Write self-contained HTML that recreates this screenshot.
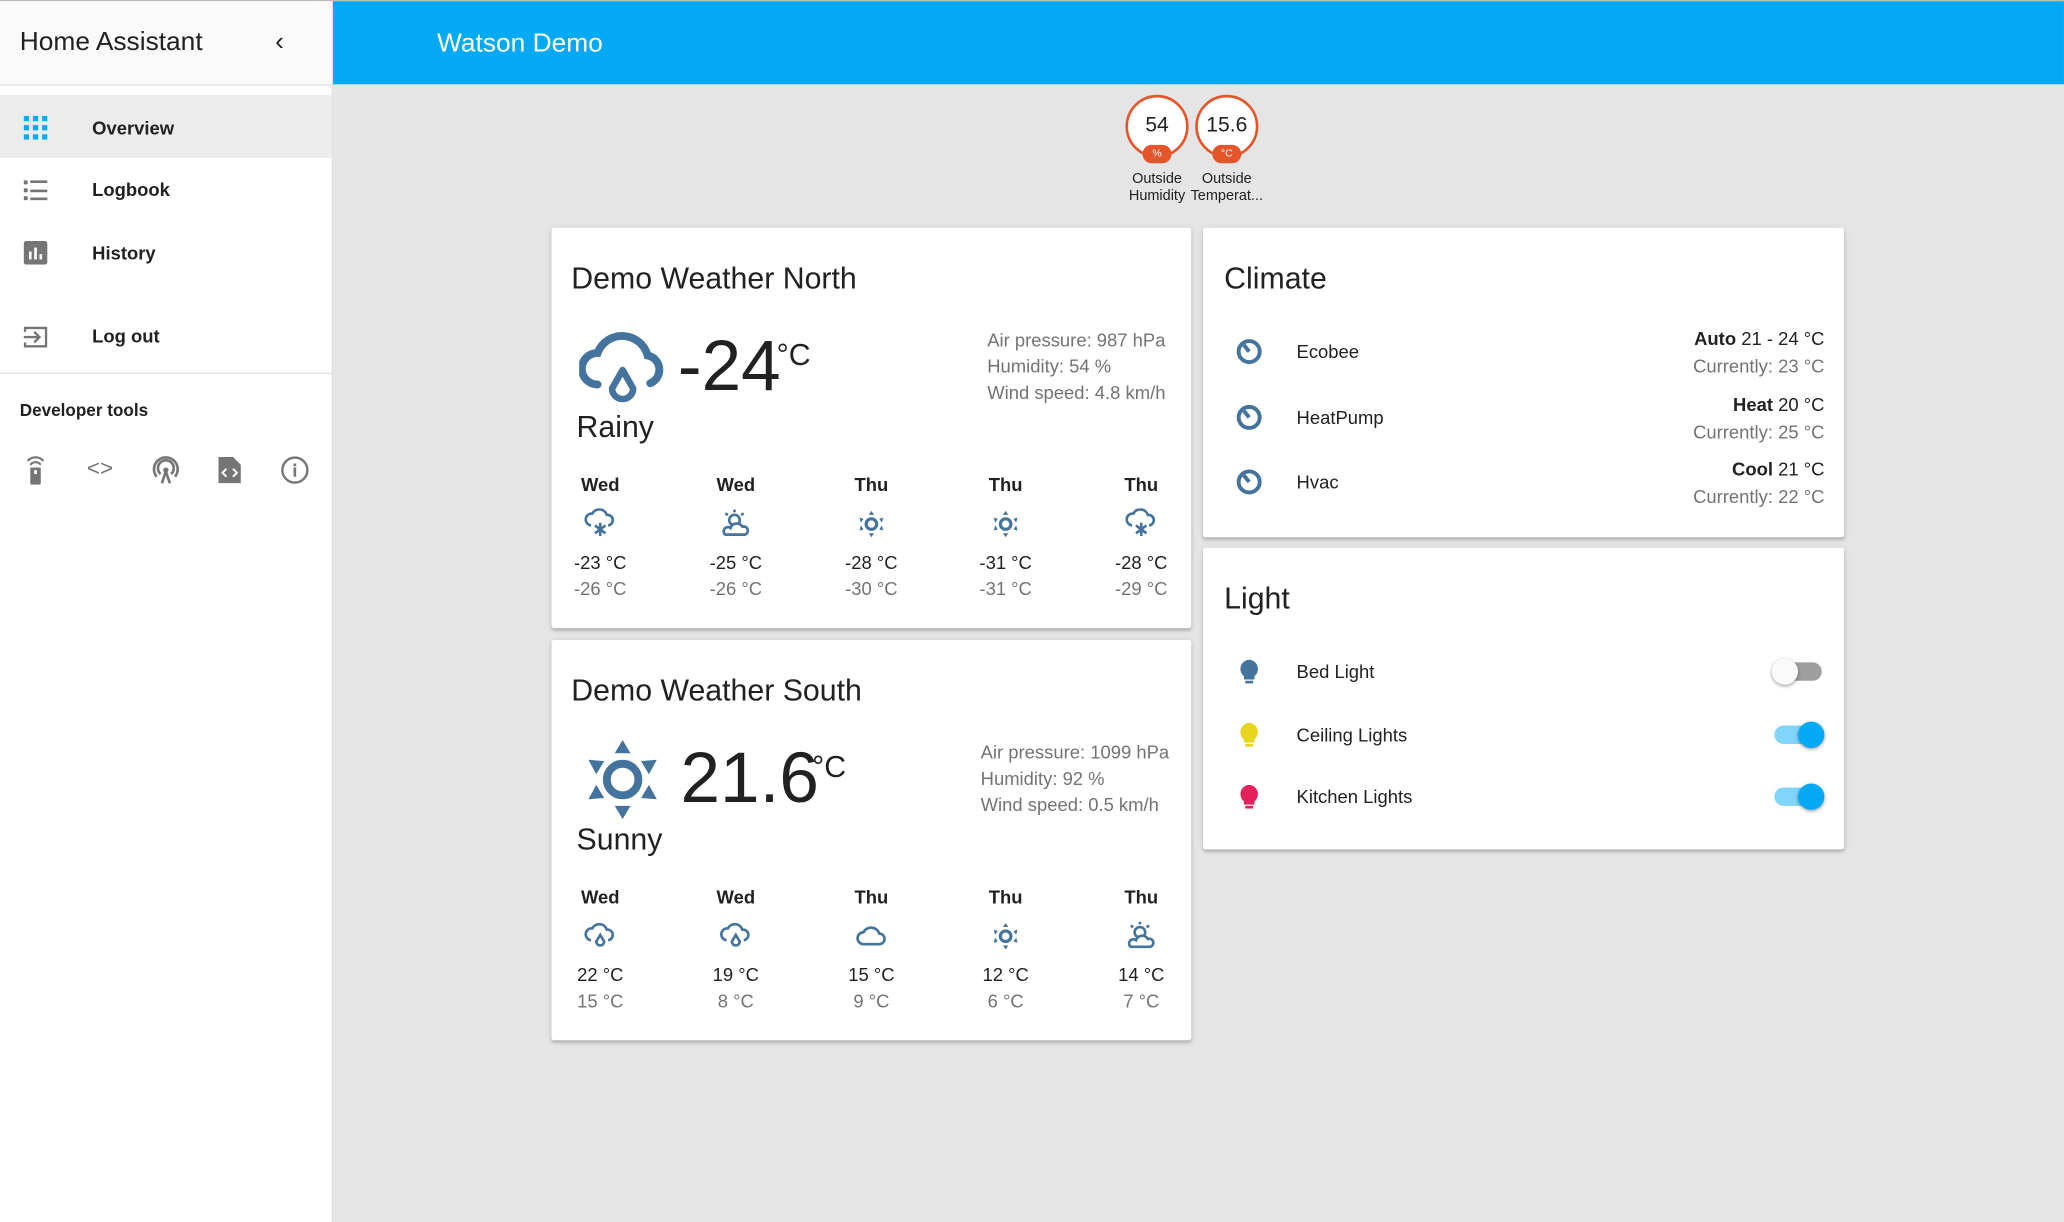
<!DOCTYPE html>
<html><head><meta charset="utf-8">
<style>
html,body{margin:0;padding:0;width:2064px;height:1222px;overflow:hidden;background:#e5e5e5;font-family:"Liberation Sans",sans-serif;}
#root{position:absolute;left:0;top:0;width:1568px;height:928px;transform:scale(1.3163,1.3168);transform-origin:0 0;background:#e5e5e5;}
.a{position:absolute;white-space:nowrap;}
.card{position:absolute;background:#fff;box-shadow:0 2px 2px rgba(0,0,0,.14),0 1px 5px rgba(0,0,0,.12);border-radius:2px;}
.ct{font-size:23px;color:#212121;}
.navt{font-size:14px;color:#212121;font-weight:bold;}
.c{transform:translateX(-50%);text-align:center;}
.r{transform:translateX(-100%);text-align:right;}
.day{font-size:14px;font-weight:bold;color:#212121;}
.hi{font-size:14px;color:#212121;}
.lo{font-size:14px;color:#737373;}
.info{font-size:14px;color:#737373;line-height:20px;}
.tog{position:absolute;width:36px;height:14px;border-radius:7px;}
.knob{position:absolute;width:20px;height:20px;border-radius:50%;top:-3px;box-shadow:0 1px 3px rgba(0,0,0,.4);}
</style></head><body>
<div id="root">
<div class="a" style="left:0;top:0;width:1568px;height:1px;background:#bbb"></div>
<!-- sidebar -->
<div class="a" style="left:0;top:1px;width:252px;height:927px;background:#fff;border-right:1px solid #e0e0e0">
 <div class="a" style="left:0;top:0;width:252px;height:63px;background:#fafafa;border-bottom:1px solid #e0e0e0"></div>
 <div class="a" style="left:15px;top:20px;font-size:20px;color:#212121">Home Assistant</div>
 <div class="a" style="left:209px;top:20px;font-size:20px;color:#212121">&#8249;</div>
 <div class="a" style="left:0;top:71px;width:252px;height:48px;background:#ececec"></div>
 <svg class="a" style="left:18px;top:87px" width="18" height="18"><g fill="#03a9f4"><rect x="0" y="0" width="4" height="4"/><rect x="7" y="0" width="4" height="4"/><rect x="14" y="0" width="4" height="4"/><rect x="0" y="7" width="4" height="4"/><rect x="7" y="7" width="4" height="4"/><rect x="14" y="7" width="4" height="4"/><rect x="0" y="14" width="4" height="4"/><rect x="7" y="14" width="4" height="4"/><rect x="14" y="14" width="4" height="4"/></g></svg>
 <div class="a navt" style="left:70px;top:88px">Overview</div>
 <svg class="a" style="left:18px;top:135px" width="18" height="18"><g fill="#757575"><rect x="0" y="1" width="3" height="3"/><rect x="5" y="1" width="13" height="2"/><rect x="0" y="7" width="3" height="3"/><rect x="5" y="8" width="13" height="2"/><rect x="0" y="13" width="3" height="3"/><rect x="5" y="14" width="13" height="2"/></g></svg>
 <div class="a navt" style="left:70px;top:135px">Logbook</div>
 <svg class="a" style="left:18px;top:182px" width="18" height="18"><rect width="18" height="18" rx="2" fill="#757575"/><g fill="#fff"><rect x="4" y="8" width="2" height="6"/><rect x="8" y="5" width="2" height="9"/><rect x="12" y="10" width="2" height="4"/></g></svg>
 <div class="a navt" style="left:70px;top:183px">History</div>
 <svg class="a" style="left:18px;top:246px" width="18" height="18"><path d="M1 5V2h16v14H1v-3" fill="none" stroke="#757575" stroke-width="1.8"/><path d="M0 9h11M8 5l4 4-4 4" fill="none" stroke="#757575" stroke-width="1.8"/></svg>
 <div class="a navt" style="left:70px;top:246px">Log out</div>
 <div class="a" style="left:0;top:282px;width:252px;height:1px;background:#e0e0e0"></div>
 <div class="a navt" style="left:15px;top:303px;font-size:13px">Developer tools</div>
 <svg class="a" style="left:18px;top:344px" width="18" height="24"><path d="M3 5a8 8 0 0 1 12 0M5 8a5 5 0 0 1 8 0" fill="none" stroke="#757575" stroke-width="1.6"/><rect x="5" y="10" width="8" height="13" rx="1" fill="#757575"/><rect x="8" y="12" width="2" height="3" fill="#fff"/></svg>
 <div class="a" style="left:66px;top:345px;font-size:17px;color:#757575">&lt;&gt;</div>
 <svg class="a" style="left:115px;top:345px" width="22" height="22"><path d="M4 16a9 9 0 1 1 14 0M7 14a6 6 0 1 1 8 0" fill="none" stroke="#757575" stroke-width="2"/><circle cx="11" cy="11" r="2" fill="#757575"/><path d="M8 21l3-9 3 9" fill="none" stroke="#757575" stroke-width="2"/></svg>
 <svg class="a" style="left:166px;top:346px" width="17" height="20"><path d="M0 0h11l6 6v14H0z" fill="#757575"/><path d="M6 9l-3 3 3 3M11 9l3 3-3 3" stroke="#fff" stroke-width="1.5" fill="none"/></svg>
 <svg class="a" style="left:213px;top:345px" width="22" height="22"><circle cx="11" cy="11" r="9.5" fill="none" stroke="#757575" stroke-width="1.8"/><rect x="10" y="9" width="2" height="7" fill="#757575"/><rect x="10" y="6" width="2" height="2" fill="#757575"/></svg>
</div>
<!-- header -->
<div class="a" style="left:253px;top:1px;width:1315px;height:63px;background:#03a9f4"></div>
<div class="a" style="left:332px;top:22px;font-size:20px;color:#fff">Watson Demo</div>
<!-- badges -->
<div class="a" style="left:855px;top:72px;width:44px;height:44px;border:2px solid #e4552a;border-radius:50%;background:#fff"></div>
<div class="a c" style="left:879px;top:87px;font-size:16px;color:#212121">54</div>
<div class="a" style="left:868px;top:110px;width:22px;height:14px;border-radius:7px;background:#e4552a;color:#fff;font-size:8px;text-align:center;line-height:14px">%</div>
<div class="a c" style="left:879px;top:130px;font-size:11px;color:#212121;line-height:13px">Outside<br>Humidity</div>
<div class="a" style="left:908px;top:72px;width:44px;height:44px;border:2px solid #e4552a;border-radius:50%;background:#fff"></div>
<div class="a c" style="left:932px;top:87px;font-size:16px;color:#212121">15.6</div>
<div class="a" style="left:921px;top:110px;width:22px;height:14px;border-radius:7px;background:#e4552a;color:#fff;font-size:8px;text-align:center;line-height:14px">°C</div>
<div class="a c" style="left:932px;top:130px;font-size:11px;color:#212121;line-height:13px">Outside<br>Temperat...</div>

<!-- North -->
<div class="card" style="left:419px;top:173px;width:486px;height:304px"></div>
<div class="a ct" style="left:434px;top:198px">Demo Weather North</div>
<svg class="a" style="left:440px;top:248px" width="68" height="62"><path d="M14 44a12 12 0 0 1 0-24 20 20 0 0 1 38 2 11 11 0 0 1 2 21" fill="none" stroke="#44739e" stroke-width="6" stroke-linecap="round"/><path d="M33 33l-8 14a8 8 0 1 0 16 0z" fill="none" stroke="#44739e" stroke-width="5" stroke-linejoin="round"/></svg>
<div class="a" style="left:515px;top:247px;font-size:54px;color:#212121">-24</div>
<div class="a" style="left:590px;top:256px;font-size:23px;color:#212121">°C</div>
<div class="a" style="left:438px;top:311px;font-size:23px;color:#212121">Rainy</div>
<div class="a info" style="left:750px;top:248px">Air pressure: 987 hPa<br>Humidity: 54 %<br>Wind speed: 4.8 km/h</div>
<div id="fn"></div>

<!-- South -->
<div class="card" style="left:419px;top:486px;width:486px;height:304px"></div>
<div class="a ct" style="left:434px;top:511px">Demo Weather South</div>
<svg class="a" style="left:445px;top:562px" width="56" height="60"><circle cx="28" cy="30" r="12" fill="none" stroke="#44739e" stroke-width="6"/><g fill="#44739e"><path d="M28 0l6 10H22z"/><path d="M28 60l6-10H22z"/><path d="M2 15l12 1-6 10z"/><path d="M54 15l-12 1 6 10z"/><path d="M2 45l12-1-6-10z"/><path d="M54 45l-12-1 6-10z"/></g></svg>
<div class="a" style="left:517px;top:560px;font-size:54px;color:#212121">21.6</div>
<div class="a" style="left:617px;top:569px;font-size:23px;color:#212121">°C</div>
<div class="a" style="left:438px;top:624px;font-size:23px;color:#212121">Sunny</div>
<div class="a info" style="left:745px;top:561px">Air pressure: 1099 hPa<br>Humidity: 92 %<br>Wind speed: 0.5 km/h</div>
<div id="fs"></div>

<!-- Climate -->
<div class="card" style="left:914px;top:173px;width:487px;height:235px"></div>
<div class="a ct" style="left:930px;top:198px">Climate</div>
<div id="clim"></div>

<!-- Light -->
<div class="card" style="left:914px;top:416px;width:487px;height:229px"></div>
<div class="a ct" style="left:930px;top:441px">Light</div>
<div id="lights"></div>
</div>
<script>
const icons={
snow:'<path d="M5 13a4.5 4.5 0 0 1 1-9 6 6 0 0 1 11 1 4 4 0 0 1 1 8" fill="none" stroke="#44739e" stroke-width="2"/><path d="M12 11v10M8 13l8 6M16 13l-8 6" stroke="#44739e" stroke-width="2"/>',
partly:'<circle cx="11" cy="9" r="4" fill="none" stroke="#44739e" stroke-width="2"/><path d="M4 20h15a3 3 0 0 0-2-6 5 5 0 0 0-9 1 3 3 0 0 0-4 5z" fill="#fff" stroke="#44739e" stroke-width="2"/><path d="M11 1v2M4 4l2 1M18 4l-2 1" stroke="#44739e" stroke-width="2"/>',
sun:'<circle cx="12" cy="12" r="4" fill="none" stroke="#44739e" stroke-width="2.4"/><g fill="#44739e"><path d="M12 2l2 3h-4z"/><path d="M12 22l2-3h-4z"/><path d="M3 7l3 1-2 3z"/><path d="M21 7l-3 1 2 3z"/><path d="M3 17l3-1-2-3z"/><path d="M21 17l-3-1 2-3z"/></g>',
rain:'<path d="M5 15a4.5 4.5 0 0 1 1-9 6 6 0 0 1 11 1 4 4 0 0 1 1 8" fill="none" stroke="#44739e" stroke-width="2"/><path d="M12 11l-3 5a3 3 0 1 0 6 0z" fill="none" stroke="#44739e" stroke-width="2"/>',
cloud:'<path d="M6 18a4.5 4.5 0 0 1 0-9 6.5 6.5 0 0 1 12 1 4 4 0 0 1 0 8z" fill="none" stroke="#44739e" stroke-width="2"/>'
};
const xs=[456,559,662,764,867];
function forecast(id,top,days,ic,hi,lo){
 const el=document.getElementById(id);let h='';
 for(let i=0;i<5;i++){
  h+=`<div class="a c day" style="left:${xs[i]}px;top:${top}px">${days[i]}</div>`;
  h+=`<svg class="a" style="left:${xs[i]-12}px;top:${top+26}px" width="24" height="24">${icons[ic[i]]}</svg>`;
  h+=`<div class="a c hi" style="left:${xs[i]}px;top:${top+59}px">${hi[i]} °C</div>`;
  h+=`<div class="a c lo" style="left:${xs[i]}px;top:${top+79}px">${lo[i]} °C</div>`;
 }
 el.innerHTML=h;
}
forecast('fn',360,['Wed','Wed','Thu','Thu','Thu'],['snow','partly','sun','sun','snow'],[-23,-25,-28,-31,-28],[-26,-26,-30,-31,-29]);
forecast('fs',673,['Wed','Wed','Thu','Thu','Thu'],['rain','rain','cloud','sun','partly'],[22,19,15,12,14],[15,8,9,6,7]);
const cl=[['Ecobee','Auto','21 - 24 °C',23],['HeatPump','Heat','20 °C',25],['Hvac','Cool','21 °C',22]];
let h='';
cl.forEach((c,i)=>{const y=267+i*49.5;
 h+=`<svg class="a" style="left:939px;top:${y-10}px" width="20" height="20"><circle cx="10" cy="10" r="8" fill="none" stroke="#44739e" stroke-width="3"/><path d="M10 10L6 5" stroke="#44739e" stroke-width="3"/></svg>`;
 h+=`<div class="a" style="left:985px;top:${y-8}px;font-size:14px;color:#212121">${c[0]}</div>`;
 h+=`<div class="a r" style="left:1386px;top:${y-18}px;font-size:14px;color:#212121"><b>${c[1]}</b> ${c[2]}</div>`;
 h+=`<div class="a r" style="left:1386px;top:${y+3}px;font-size:14px;color:#737373">Currently: ${c[3]} °C</div>`;
});
document.getElementById('clim').innerHTML=h;
const li=[['Bed Light','#44739e',false],['Ceiling Lights','#e8d51e',true],['Kitchen Lights','#e3225c',true]];
h='';
li.forEach((l,i)=>{const y=510+i*47.5;
 h+=`<svg class="a" style="left:941px;top:${y-10}px" width="16" height="22"><path d="M8 1a7 7 0 0 0-4 12.5V16h8v-2.5A7 7 0 0 0 8 1z" fill="${l[1]}"/><rect x="5" y="17" width="6" height="2" fill="${l[1]}"/></svg>`;
 h+=`<div class="a" style="left:985px;top:${y-8}px;font-size:14px;color:#212121">${l[0]}</div>`;
 h+=`<div class="tog" style="left:1348px;top:${y-7}px;background:${l[2]?'#81d4fa':'#9e9e9e'}"><div class="knob" style="left:${l[2]?18:-2}px;background:${l[2]?'#03a9f4':'#fafafa'}"></div></div>`;
});
document.getElementById('lights').innerHTML=h;
</script>
</body></html>
